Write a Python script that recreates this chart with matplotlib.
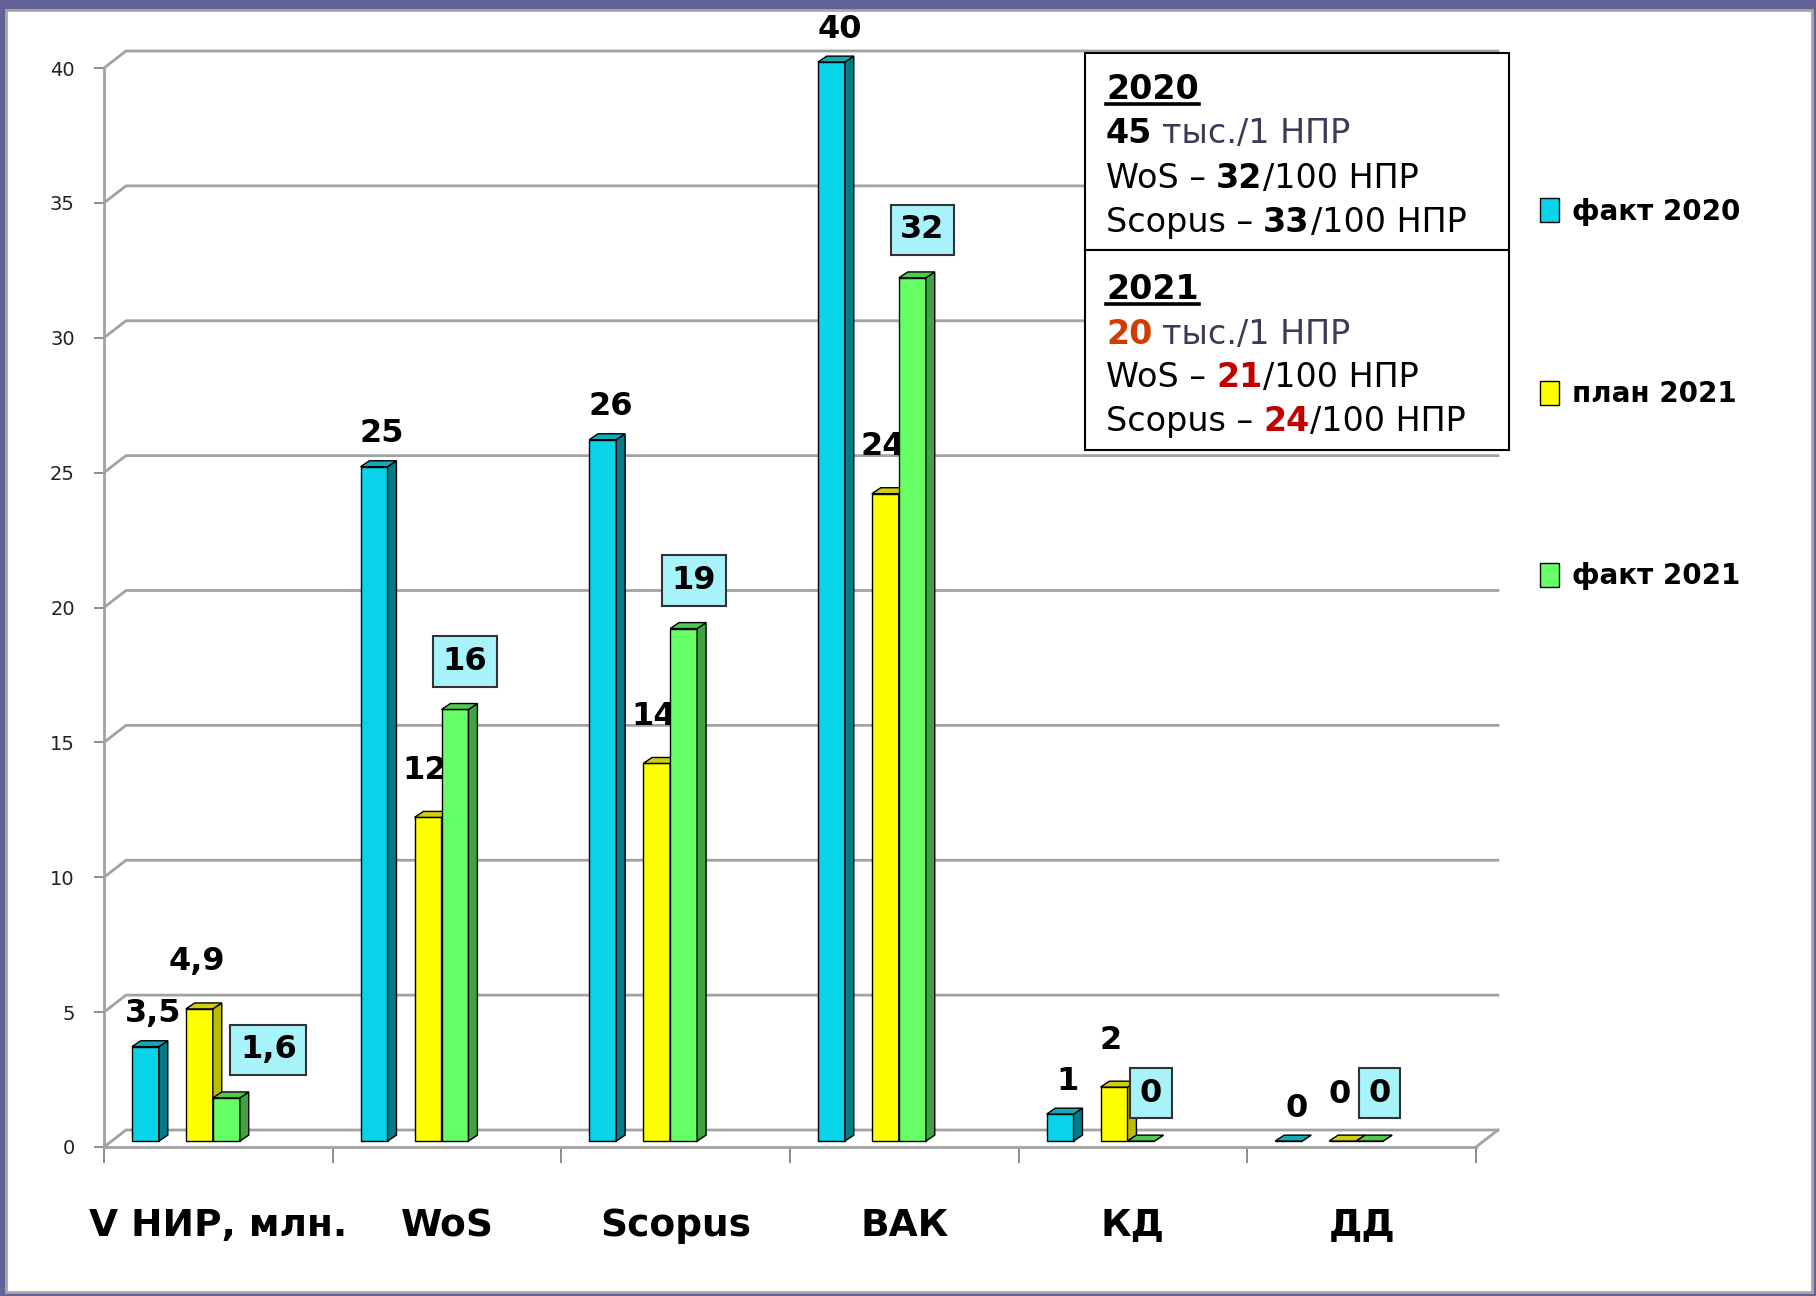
import numpy as np
import matplotlib
matplotlib.use('Agg')
import matplotlib.pyplot as plt
from matplotlib.patches import Polygon, Rectangle
from matplotlib.lines import Line2D

plt.rcParams['font.family'] = ['DejaVu Sans']

# Данные
categories = ['V НИР, млн.', 'WoS', 'Scopus', 'ВАК', 'КД', 'ДД']
fact_2020 = [3.5, 25, 26, 40, 1, 0]
plan_2021 = [4.9, 12, 14, 24, 2, 0]
fact_2021 = [1.6, 16, 19, 32, 0, 0]
series_names = ['факт 2020', 'план 2021', 'факт 2021']

W, H = 1816, 1296
fig = plt.figure(figsize=(W / 100, H / 100), dpi=100, facecolor='#63639A')

# белая рамка слайда
fig.add_artist(Rectangle((6 / W, 1 - 1292 / H), (1812 - 6) / W, (1292 - 10) / H,
                         transform=fig.transFigure, facecolor='white',
                         edgecolor='#A8A8A8', lw=2, zorder=0))

ax = fig.add_axes([104 / W, 1 - 1147 / H, (1476 - 104) / W, (1147 - 68) / H])
ax.patch.set_visible(False)
ax.set_xlim(-0.5, 5.5)
ax.set_ylim(0, 40)

# псевдо-3D параметры
gdx, gdy = 0.096, 0.63      # смещение задней стенки
ddx, ddy = 0.039, 0.22      # глубина столбика
base = 0.22
width = 0.118
offsets = [-0.319, -0.083, 0.035]
front = ['#08D3E8', '#FFFF00', '#66FF66']
side = ['#017C88', '#BDBD00', '#3FA33F']
top = ['#13A9B6', '#CFCF10', '#4FC94F']
label_off = [(8, 33), (-3, 47), (10, 48)]

# сетка
grid_c = '#A2A2A2'
for v in range(0, 41, 5):
    ax.plot([-0.5, -0.5 + gdx, 5.5 + gdx], [v, v + gdy, v + gdy], color=grid_c,
            lw=2.0, clip_on=False, zorder=1)
ax.plot([5.5, 5.5 + gdx], [0, gdy], color=grid_c, lw=2.0, clip_on=False, zorder=1)

for s in ['top', 'right']:
    ax.spines[s].set_visible(False)
for s in ['left', 'bottom']:
    ax.spines[s].set_color(grid_c)
    ax.spines[s].set_linewidth(2.0)

ax.set_yticks(range(0, 41, 5))
ax.tick_params(axis='y', direction='out', length=7, width=1.4, color='#8C8C8C',
               labelsize=14, labelcolor='#222222', pad=14)
x = np.arange(len(categories))
ax.set_xticks(x)
ax.set_xticklabels(categories, fontsize=27, fontweight='bold')
ax.set_xticks(np.arange(-0.5, 6, 1), minor=True)
ax.tick_params(axis='x', which='major', length=0, pad=44)
ax.tick_params(axis='x', which='minor', direction='out', length=11.5, width=1.4,
               color='#8C8C8C')


def fmt(v):
    return str(int(v)) if float(v).is_integer() else str(v).replace('.', ',')


for i, vals in enumerate([fact_2020, plan_2021, fact_2021]):
    bars = ax.bar(x + offsets[i], vals, width, bottom=base, color=front[i],
                  edgecolor='black', lw=1, label=series_names[i],
                  zorder=3 + 2 * i, clip_on=False)
    for j, b in enumerate(bars):
        x0 = b.get_x()
        x1 = x0 + b.get_width()
        y0 = b.get_y()
        y1 = y0 + b.get_height()
        ax.add_patch(Polygon([(x1, y0), (x1, y1), (x1 + ddx, y1 + ddy), (x1 + ddx, y0 + ddy)],
                             closed=True, fc=side[i], ec='black', lw=1,
                             zorder=3 + 2 * i, clip_on=False))
        ax.add_patch(Polygon([(x0, y1), (x1, y1), (x1 + ddx, y1 + ddy), (x0 + ddx, y1 + ddy)],
                             closed=True, fc=top[i], ec='black', lw=1,
                             zorder=3 + 2 * i, clip_on=False))
        dx, dy = label_off[i]
        kw = {}
        if i == 2:
            kw['bbox'] = dict(boxstyle='square,pad=0.3', fc='#A8F3FA', ec='#333333', lw=1.5)
            if j == 0:
                dx += 32
        ax.annotate(fmt(vals[j]), ((x0 + x1) / 2, y1), xytext=(dx, dy),
                    textcoords='offset pixels', ha='center', va='center',
                    fontsize=23, fontweight='bold', color='black',
                    zorder=4 + 2 * i, annotation_clip=False, **kw)

# легенда
ax.legend(loc='upper left', bbox_to_anchor=(1540 / W, 1 - 198 / H),
          bbox_transform=fig.transFigure, frameon=False,
          prop={'weight': 'bold', 'size': 20}, handlelength=0.7, handleheight=0.95,
          handletextpad=0.45, labelspacing=5.55, borderpad=0, borderaxespad=0)

# текстовый блок
fig.add_artist(Rectangle((1085 / W, 1 - 250 / H), (1509 - 1085) / W, (250 - 53) / H,
                         transform=fig.transFigure, fc='white', ec='black', lw=1.5, zorder=5))
fig.add_artist(Rectangle((1085 / W, 1 - 450 / H), (1509 - 1085) / W, (450 - 250) / H,
                         transform=fig.transFigure, fc='white', ec='black', lw=1.5, zorder=5))

fig.canvas.draw()
renderer = fig.canvas.get_renderer()
slate = '#3B3B58'
red1 = '#D23C00'
red2 = '#C00000'


def put_line(y_px, pieces, underline=False):
    xp = 1106
    for txt, bold, col, gap in pieces:
        xp += gap
        t = fig.text(xp / W, 1 - y_px / H, txt, fontsize=24,
                     fontweight='bold' if bold else 'normal', color=col,
                     va='baseline', ha='left', zorder=6)
        bb = t.get_window_extent(renderer)
        xp = bb.x1
        if underline:
            fig.add_artist(Line2D([bb.x0 / W, bb.x1 / W],
                                  [1 - (y_px + 5) / H, 1 - (y_px + 5) / H],
                                  transform=fig.transFigure, color='black',
                                  lw=2.6, zorder=6))


sp = 10
put_line(99, [('2020', True, 'black', 0)], underline=True)
put_line(143, [('45', True, 'black', 0), ('тыс./1 НПР', False, slate, sp)])
put_line(188, [('WoS –', False, 'black', 0), ('32', True, 'black', sp),
               ('/100 НПР', False, 'black', 1)])
put_line(232, [('Scopus –', False, 'black', 0), ('33', True, 'black', sp),
               ('/100 НПР', False, 'black', 1)])
put_line(299, [('2021', True, 'black', 0)], underline=True)
put_line(344, [('20', True, red1, 0), ('тыс./1 НПР', False, slate, sp)])
put_line(387, [('WoS –', False, 'black', 0), ('21', True, red2, sp),
               ('/100 НПР', False, 'black', 1)])
put_line(431, [('Scopus –', False, 'black', 0), ('24', True, red2, sp),
               ('/100 НПР', False, 'black', 1)])

fig.savefig('out.png', dpi=100, facecolor=fig.get_facecolor())
